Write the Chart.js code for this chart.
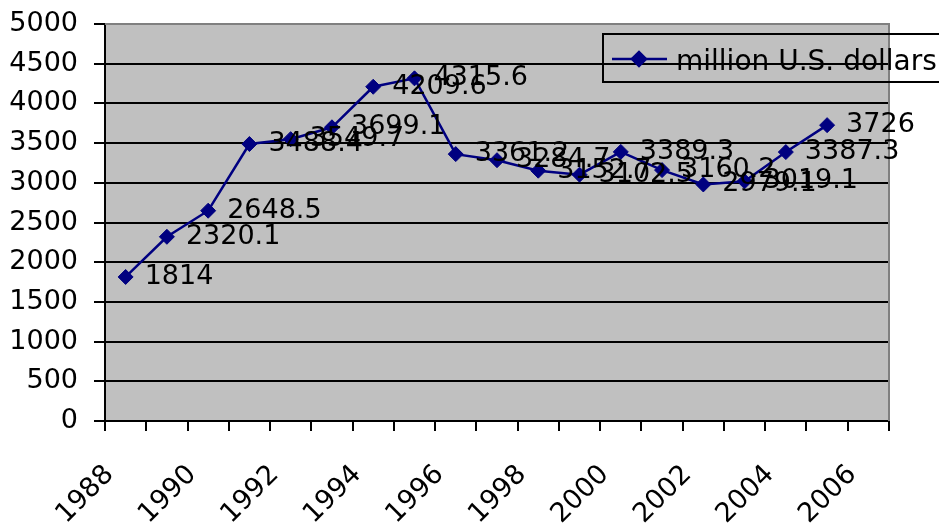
<!DOCTYPE html>
<html>
<head>
<meta charset="utf-8">
<script src="https://cdn.jsdelivr.net/npm/chart.js@4/dist/chart.umd.min.js"></script>
<style>
  html, body { margin: 0; padding: 0; background: #fff; }
  #wrap { width: 939px; height: 523px; }
</style>
</head>
<body>
<div id="wrap"><canvas id="chart" width="939" height="523"></canvas></div>
<script>
var years = ["1988", "1989", "1990", "1991", "1992", "1993", "1994", "1995", "1996", "1997",
             "1998", "1999", "2000", "2001", "2002", "2003", "2004", "2005", "2006"];
var dollars = [1814, 2320.1, 2648.5, 3488.4, 3549.7, 3699.1, 4209.6, 4315.6, 3361.2, 3284.7,
               3152.7, 3102.5, 3389.3, 3160.2, 2979.1, 3019.1, 3387.3, 3726, null];
var yTicks = [0, 500, 1000, 1500, 2000, 2500, 3000, 3500, 4000, 4500, 5000];
var seriesName = "million U.S. dollars";

var FONT = "DejaVu Sans";
var NAVY = "#000080";

// grey plot area with grey top/right edge, like the old Excel charts
var plotArea = {
    id: "plotArea",
    beforeDraw(chart) {
        var a = chart.chartArea, ctx = chart.ctx;
        ctx.save();
        ctx.fillStyle = "#c0c0c0";
        ctx.fillRect(a.left, a.top, a.right - a.left, a.bottom - a.top);
        ctx.restore();
    },
    beforeDatasetsDraw(chart) {
        var a = chart.chartArea, ctx = chart.ctx;
        ctx.save();
        ctx.strokeStyle = "#808080";
        ctx.lineWidth = 2;
        ctx.beginPath();
        ctx.moveTo(a.left, a.top);
        ctx.lineTo(a.right, a.top);
        ctx.lineTo(a.right, a.bottom);
        ctx.stroke();
        ctx.restore();
    }
};

// value labels right of each point
var pointLabels = {
    id: "pointLabels",
    afterDatasetsDraw(chart) {
        var ctx = chart.ctx;
        var meta = chart.getDatasetMeta(0);
        var data = chart.data.datasets[0].data;
        ctx.save();
        ctx.font = "27px '" + FONT + "'";
        ctx.fillStyle = "#000";
        ctx.textAlign = "left";
        ctx.textBaseline = "middle";
        meta.data.forEach(function (pt, i) {
            if (data[i] === null) return;
            ctx.fillText(String(data[i]), pt.x + 19, pt.y);
        });
        ctx.restore();
    }
};

// legend box sitting over the top right of the plot
var boxLegend = {
    id: "boxLegend",
    afterDraw(chart) {
        var ctx = chart.ctx;
        var ds = chart.data.datasets[0];
        ctx.save();
        ctx.strokeStyle = "#000";
        ctx.lineWidth = 2;
        ctx.strokeRect(603, 34, 400, 48);
        ctx.strokeStyle = NAVY;
        ctx.lineWidth = 2.5;
        ctx.beginPath();
        ctx.moveTo(612, 59);
        ctx.lineTo(667, 59);
        ctx.stroke();
        Chart.helpers.drawPoint(ctx, { pointStyle: "rectRot", radius: 7, borderWidth: 1 }, 639, 59);
        ctx.fillStyle = NAVY;
        ctx.fill();
        ctx.fillStyle = "#000";
        ctx.font = "28px '" + FONT + "'";
        ctx.textBaseline = "alphabetic";
        ctx.fillText(ds.label, 676, 70);
        ctx.restore();
    }
};

new Chart("chart", {
    type: "line",
    data: {
        labels: years,
        datasets: [{
            label: seriesName,
            data: dollars,
            borderColor: NAVY,
            borderWidth: 2.5,
            backgroundColor: NAVY,
            pointStyle: "rectRot",
            pointRadius: 7.5,
            pointBorderWidth: 1,
            pointBackgroundColor: NAVY,
            pointBorderColor: NAVY,
            tension: 0
        }]
    },
    options: {
        responsive: false,
        animation: false,
        layout: { padding: { top: 24, right: 50, left: 0, bottom: 0 } },
        plugins: {
            legend: { display: false },
            tooltip: { enabled: false }
        },
        scales: {
            x: {
                type: "category",
                offset: true,
                grid: {
                    offset: true,
                    drawOnChartArea: false,
                    drawTicks: true,
                    tickLength: 10,
                    color: "#000",
                    lineWidth: 2
                },
                border: { display: true, color: "#000", width: 2 },
                ticks: {
                    autoSkip: false,
                    minRotation: 45,
                    maxRotation: 45,
                    padding: 28,
                    labelOffset: -16,
                    color: "#000",
                    font: { family: FONT, size: 27 },
                    callback: function (v, i) { return i % 2 === 0 ? years[i] : ""; }
                },
                afterFit: function (s) { s.height = 102; s.paddingTop = 0; s.paddingBottom = 0; }
            },
            y: {
                min: yTicks[0],
                max: yTicks[yTicks.length - 1],
                afterBuildTicks: function (s) {
                    s.ticks = yTicks.map(function (v) { return { value: v }; });
                },
                grid: {
                    color: function (c) { return c.tick && c.tick.value === 5000 ? "#808080" : "#000"; },
                    tickColor: "#000",
                    lineWidth: 2,
                    tickLength: 11
                },
                border: { display: true, color: "#000", width: 2 },
                ticks: {
                    padding: 16,
                    color: "#000",
                    font: { family: FONT, size: 27 },
                    callback: function (v) { return String(v); }
                },
                afterFit: function (s) { s.width = 105; s.paddingTop = 0; s.paddingBottom = 0; }
            }
        }
    },
    plugins: [plotArea, pointLabels, boxLegend]
});
</script>
</body>
</html>
